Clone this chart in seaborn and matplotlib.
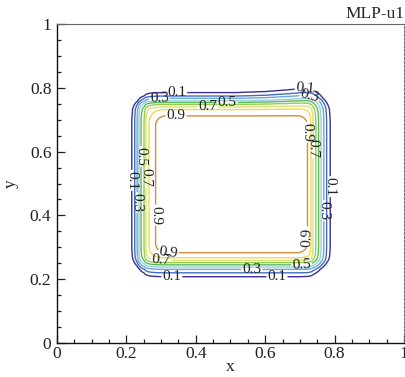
import numpy as np
import matplotlib
matplotlib.use("Agg")
import matplotlib.pyplot as plt
from matplotlib import font_manager
from matplotlib.ticker import MultipleLocator
import seaborn as sns

# ---- data ----
levels = [0.1, 0.2, 0.3, 0.4, 0.5, 0.6, 0.7, 0.8, 0.9]
# position of each contour level on each side of the square
left_x = [0.216, 0.224, 0.231, 0.236, 0.242, 0.251, 0.256, 0.265, 0.284]
right_x = [0.787, 0.777, 0.769, 0.761, 0.754, 0.746, 0.738, 0.732, 0.722]
top_y = [0.785, 0.774, 0.767, 0.759, 0.754, 0.748, 0.740, 0.732, 0.712]
bottom_y = [0.208, 0.220, 0.231, 0.238, 0.245, 0.252, 0.259, 0.267, 0.283]
# upward bulge of the top side towards the upper-right corner
top_shift_x = [0.0, 0.52, 0.60, 0.66, 0.71, 0.76, 1.0]
top_shift_dy = [0.0, 0.0, 0.003, 0.008, 0.013, 0.015, 0.0]
top_shift_weight = [1.0, 0.85, 0.7, 0.55, 0.45, 0.35, 0.25, 0.15, 0.05]
level_colors = ["#3b2f96", "#3f6cc2", "#6aa6d8", "#9ccfd6", "#5cb85c",
                "#94cc52", "#d8e27a", "#eedc4e", "#d98a3c"]
tick_values = [0, 0.2, 0.4, 0.6, 0.8, 1]
tick_labels = ["0", "0.2", "0.4", "0.6", "0.8", "1"]
title = "MLP-u1"

# label positions (data coords) per level
label_pos = {
    0.1: [(0.345, 0.790), (0.715, 0.800), (0.212, 0.510), (0.787, 0.490),
          (0.331, 0.207), (0.634, 0.207)],
    0.3: [(0.295, 0.768), (0.728, 0.770), (0.233, 0.440), (0.767, 0.415),
          (0.562, 0.231)],
    0.5: [(0.490, 0.754), (0.244, 0.585), (0.705, 0.262)],
    0.7: [(0.435, 0.740), (0.257, 0.520), (0.738, 0.610), (0.300, 0.259)],
    0.9: [(0.343, 0.712), (0.284, 0.401), (0.722, 0.661), (0.722, 0.332),
          (0.320, 0.283)],
}

# ---- build field from the read contour positions ----
lv = np.array(levels)
fp = np.concatenate([[0.0], lv, [1.0]])


def rising(t, pos):
    p = np.asarray(pos)
    return np.interp(t, np.concatenate([[p[0] - 0.03], p, [p[-1] + 0.03]]), fp)


def falling(t, pos):
    p = np.asarray(pos)[::-1]
    return np.interp(t, np.concatenate([[p[0] - 0.03], p, [p[-1] + 0.03]]),
                     fp[::-1])


xs = np.linspace(0, 1, 601)
ys = np.linspace(0, 1, 601)
X, Y = np.meshgrid(xs, ys)

gx = np.minimum(rising(xs, left_x), falling(xs, right_x))       # per column
GX = np.tile(gx, (len(ys), 1))
GY = np.empty_like(X)
shift_cols = np.interp(xs, top_shift_x, top_shift_dy)
for j, xv in enumerate(xs):
    tops = np.array(top_y) + shift_cols[j] * np.array(top_shift_weight)
    GY[:, j] = np.minimum(rising(ys, bottom_y), falling(ys, tops))

U = 1.0 - np.sqrt((1.0 - GX) ** 2 + (1.0 - GY) ** 2)

# ---- fonts ----
sns.set_style("ticks")
serif_name = "Liberation Serif"
for f in font_manager.findSystemFonts():
    if "LiberationSerif-Regular" in f:
        font_manager.fontManager.addfont(f)
        serif_name = font_manager.FontProperties(fname=f).get_name()
        break
plt.rcParams["font.family"] = [serif_name, "DejaVu Serif"]

# ---- plot ----
fig = plt.figure(figsize=(4.06, 3.77), dpi=100)
ax = fig.add_axes([57 / 406, 34 / 377, 347 / 406, 319 / 377])

for lev, col in zip(levels, level_colors):
    cs = ax.contour(X, Y, U, levels=[lev], colors=[col], linewidths=1.0)
    if lev in label_pos:
        ax.clabel(cs, manual=label_pos[lev], inline=True, inline_spacing=1,
                  fontsize=11, colors="#222222", fmt="%.1f")

ax.set_xlim(0, 1)
ax.set_ylim(0, 1)
ax.set_xticks(tick_values)
ax.set_xticklabels(tick_labels)
ax.set_yticks(tick_values)
ax.set_yticklabels(tick_labels)
ax.xaxis.set_minor_locator(MultipleLocator(0.05))
ax.yaxis.set_minor_locator(MultipleLocator(0.05))
ax.tick_params(which="both", direction="in", top=False, right=False,
               labelsize=12.5, colors="#222222")
ax.tick_params(axis="x", pad=2)
ax.tick_params(axis="y", pad=4)
ax.tick_params(which="major", length=6, width=0.9)
ax.tick_params(which="minor", length=3, width=0.9)
for s in ["left", "bottom"]:
    ax.spines[s].set_linewidth(1.0)
    ax.spines[s].set_color("#111111")
ax.spines["top"].set_linewidth(0.8)
ax.spines["top"].set_color("#666666")
ax.spines["right"].set_linewidth(0.8)
ax.spines["right"].set_color("#777777")
ax.spines["right"].set_linestyle((0, (2, 1.5)))

ax.set_xlabel("x", fontsize=12.5, labelpad=-2)
ax.set_ylabel("y", fontsize=12.5, labelpad=8)
ax.set_title(title, loc="right", fontsize=12.5, pad=4)

fig.savefig("out.png", dpi=100)
